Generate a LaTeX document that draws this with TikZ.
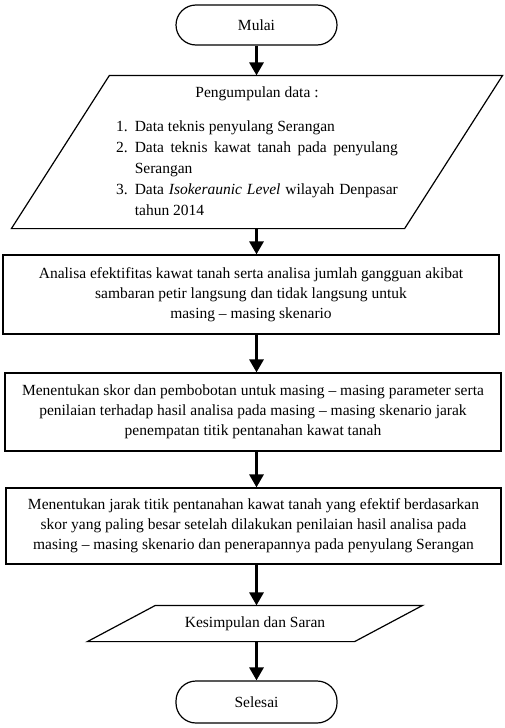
\documentclass[tikz,border=0pt]{standalone}
\usepackage{fontspec}
\setmainfont{Liberation Serif}
\usetikzlibrary{arrows.meta}

\tikzset{
  terminal/.style={draw,rounded corners=20pt,minimum width=161pt,minimum height=40pt,inner sep=0pt},
  proses/.style={draw,minimum width=496pt,inner sep=0pt,align=center},
  masukan/.style={inner sep=0pt,align=center}
}

\begin{document}
\begin{tikzpicture}[x=1pt,y=-1pt,>={Triangle[length=13pt,width=14pt]},
  every node/.style={font=\fontsize{15.5}{20}\selectfont},line width=1.2pt]

\useasboundingbox (0,0) rectangle (505,728);

\node(mulai) at (256.5,25)[terminal] {Mulai};
\node(data) at (257,152)[masukan,minimum width=392pt,minimum height=152pt,
  font=\fontsize{15.5}{21}\selectfont]
  {\begin{tabular}{@{}r@{\hspace{7pt}}p{263pt}@{}}
   \multicolumn{2}{c}{Pengumpulan data :}\\[13pt]
   1.& Data teknis penyulang Serangan\\
   2.& Data teknis kawat tanah pada penyulang\linebreak Serangan\\
   3.& Data \textit{Isokeraunic Level} wilayah Denpasar\linebreak tahun 2014
   \end{tabular}};
\node(analisa) at (251,294.5)[proses,minimum height=79pt]
  {Analisa efektifitas kawat tanah serta analisa jumlah gangguan akibat\\
   sambaran petir langsung dan tidak langsung untuk\\
   masing -- masing skenario};
\node(skor) at (253,412)[proses,minimum height=78pt]
  {Menentukan skor dan pembobotan untuk masing -- masing parameter serta\\
   penilaian terhadap hasil analisa pada masing -- masing skenario jarak\\
   penempatan titik pentanahan kawat tanah};
\node(jarak) at (253.5,526)[proses,minimum width=495pt,minimum height=76pt]
  {Menentukan jarak titik pentanahan kawat tanah yang efektif berdasarkan\\
   skor yang paling besar setelah dilakukan penilaian hasil analisa pada\\
   masing -- masing skenario dan penerapannya pada penyulang Serangan};
\node(saran) at (255,623.5)[masukan,minimum width=266pt,minimum height=35pt] {Kesimpulan dan Saran};
\node(selesai) at (256.5,702)[terminal,minimum height=42pt] {Selesai};

% jajaran genjang
\draw ([xshift=49pt]data.north west) -- ([xshift=49pt]data.north east)
   -- ([xshift=-49pt]data.south east) -- ([xshift=-49pt]data.south west) -- cycle;
\draw ([xshift=34pt]saran.north west) -- ([xshift=34pt]saran.north east)
   -- ([xshift=-34pt]saran.south east) -- ([xshift=-34pt]saran.south west) -- cycle;

\draw[->,line width=3pt] (mulai) -- (mulai |- data.north);
\draw[->,line width=3pt] (mulai |- data.south) -- (mulai |- analisa.north);
\draw[->,line width=3pt] (mulai |- analisa.south) -- (mulai |- skor.north);
\draw[->,line width=3pt] (mulai |- skor.south) -- (mulai |- jarak.north);
\draw[->,line width=3pt] (mulai |- jarak.south) -- (mulai |- saran.north);
\draw[->,line width=3pt] (mulai |- saran.south) -- (selesai);

\end{tikzpicture}
\end{document}
